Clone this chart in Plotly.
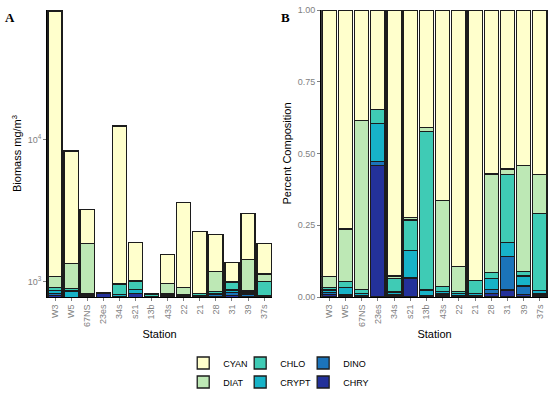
import plotly.graph_objects as go

stations = ["W3", "W5", "67NS", "23es", "34s", "s21", "13b", "43s", "22", "21", "28", "31", "39", "37s"]
groups = ["CHRY", "DINO", "CRYPT", "CHLO", "DIAT", "CYAN"]  # stacking order, bottom to top

# Panel A: biomass (mg/m^3) per group
biomass_CHRY = [800, 760, 785, 825, 770, 822, 782, 785, 785, 785, 790, 800, 790, 780]
biomass_DINO = [30, 15, 7, 3, 15, 4, 2, 15, 10, 5, 18, 40, 30, 5]
biomass_CRYPT = [35, 85, 8, 6, 30, 54, 6, 15, 10, 8, 22, 32, 25, 15]
biomass_CHLO = [48, 38, 20, 4, 140, 120, 22, 13, 10, 27, 20, 118, 25, 200]
biomass_DIAT = [172, 451, 1046, 0, 7, 16, 3, 147, 95, 1, 335, 10, 560, 133]
biomass_CYAN = [79915, 7011, 1379, 4, 11598, 868, 5, 586, 2704, 1429, 974, 361, 1610, 733]

# Panel B: fraction of total per group
pct_CHRY = [0.008, 0.003, 0.002, 0.458, 0.004, 0.066, 0.002, 0.004, 0.003, 0.002, 0.012, 0.024, 0.008, 0.004]
pct_DINO = [0.007, 0.004, 0.003, 0.015, 0.005, 0.002, 0.002, 0.006, 0.003, 0.003, 0.015, 0.117, 0.030, 0.006]
pct_CRYPT = [0.009, 0.027, 0.006, 0.132, 0.008, 0.095, 0.020, 0.009, 0.006, 0.008, 0.038, 0.048, 0.035, 0.012]
pct_CHLO = [0.010, 0.020, 0.015, 0.049, 0.048, 0.105, 0.552, 0.017, 0.008, 0.044, 0.021, 0.238, 0.016, 0.268]
pct_DIAT = [0.037, 0.183, 0.590, 0.000, 0.008, 0.009, 0.014, 0.300, 0.086, 0.000, 0.343, 0.019, 0.370, 0.137]
pct_CYAN = [0.929, 0.763, 0.384, 0.346, 0.927, 0.723, 0.410, 0.664, 0.894, 0.943, 0.571, 0.554, 0.541, 0.573]

biomass = {"CHRY": biomass_CHRY, "DINO": biomass_DINO, "CRYPT": biomass_CRYPT,
           "CHLO": biomass_CHLO, "DIAT": biomass_DIAT, "CYAN": biomass_CYAN}
pct = {"CHRY": pct_CHRY, "DINO": pct_DINO, "CRYPT": pct_CRYPT,
       "CHLO": pct_CHLO, "DIAT": pct_DIAT, "CYAN": pct_CYAN}

colors = {"CYAN": "#FFFFCC", "DIAT": "#BDE8B5", "CHLO": "#3FCBB5",
          "CRYPT": "#17B3C8", "DINO": "#1B74BA", "CHRY": "#23319A"}
# legend layout: one vertical legend per column
legend_col = {"CYAN": "legend", "DIAT": "legend",
              "CHLO": "legend2", "CRYPT": "legend2",
              "DINO": "legend3", "CHRY": "legend3"}
legend_rank = {"CYAN": 1, "DIAT": 2, "CHLO": 1, "CRYPT": 2, "DINO": 1, "CHRY": 2}

line_col = "#1c1c1c"
fig = go.Figure()
for g in groups:
    fig.add_trace(go.Bar(x=stations, y=biomass[g], name=g, marker_color=colors[g],
                         marker_line=dict(color=line_col, width=1.3),
                         xaxis="x", yaxis="y", showlegend=True,
                         legend=legend_col[g], legendrank=legend_rank[g]))
for g in groups:
    fig.add_trace(go.Bar(x=stations, y=pct[g], name=g, marker_color=colors[g],
                         marker_line=dict(color=line_col, width=1.3),
                         xaxis="x2", yaxis="y2", showlegend=False))

W, H = 550, 394
L, R, T, B = 46.7, 2, 10, 97
PW, PH = W - L - R, H - T - B


def px(xpix):
    return (xpix - L) / PW


def py(ypix):
    return (H - B - ypix) / PH


grey = "#7f7f7f"
tickfont = dict(family="Liberation Sans, Arial", size=9, color=grey)
titlefont = dict(family="Liberation Sans, Arial", size=11, color="black")

common_x = dict(type="category", tickangle=-90, tickfont=tickfont, showline=True,
                linecolor="black", linewidth=1, ticks="outside", ticklen=3,
                tickcolor=grey, showgrid=False, zeroline=False, automargin=False,
                title=dict(text="Station", font=titlefont, standoff=4))
legend_common = dict(orientation="v", xanchor="left", yanchor="middle",
                     itemwidth=30, traceorder="normal",
                     font=dict(family="Liberation Sans, Arial", size=9, color="black"),
                     bgcolor="rgba(0,0,0,0)", y=py(372.5))

fig.update_layout(
    width=W, height=H, barmode="stack", bargap=0.12,
    paper_bgcolor="white", plot_bgcolor="white",
    margin=dict(l=L, r=R, t=T, b=B, autoexpand=False),
    font=dict(family="Liberation Sans, Arial"),
    xaxis=dict(domain=[0, px(272)], anchor="y", **common_x),
    xaxis2=dict(domain=[px(321), 1], anchor="y2", **common_x),
    yaxis=dict(domain=[0, 1], anchor="x", type="log",
               range=[2.892, 4.916], tickvals=[1000, 10000],
               ticktext=["10<sup>3</sup>", "10<sup>4</sup>"],
               tickfont=tickfont, showline=True, linecolor="black", linewidth=1,
               ticks="outside", ticklen=3, tickcolor=grey, showgrid=False, zeroline=False,
               automargin=False,
               title=dict(text="Biomass mg/m<sup>3</sup>", font=titlefont, standoff=3)),
    yaxis2=dict(domain=[0, 1], anchor="x2", range=[0, 1.0],
                tickvals=[0, 0.25, 0.5, 0.75, 1.0], tickformat=".2f",
                tickfont=tickfont, showline=True, linecolor="black", linewidth=1,
                ticks="outside", ticklen=3, tickcolor=grey, showgrid=False, zeroline=False,
                automargin=False,
                title=dict(text="Percent Composition", font=titlefont, standoff=3)),
    legend=dict(x=px(183), **legend_common),
    legend2=dict(x=px(240), **legend_common),
    legend3=dict(x=px(303), **legend_common),
    annotations=[
        dict(text="<b>A</b>", x=px(10), y=py(17), xref="paper", yref="paper",
             xanchor="center", yanchor="middle",
             showarrow=False, font=dict(family="Liberation Serif, DejaVu Serif", size=13, color="black")),
        dict(text="<b>B</b>", x=px(285), y=py(17), xref="paper", yref="paper",
             xanchor="center", yanchor="middle",
             showarrow=False, font=dict(family="Liberation Serif, DejaVu Serif", size=13, color="black")),
    ],
)

fig.write_html("out.html", config={"displayModeBar": False},
               post_script="document.body.style.margin='0px';")
